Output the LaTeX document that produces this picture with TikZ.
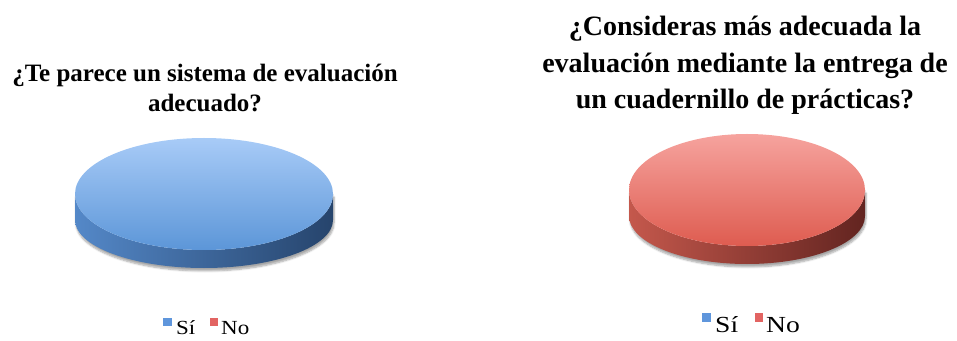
\documentclass[tikz,border=0pt]{standalone}
\usepackage{fontspec}
\setmainfont{Liberation Serif}
\usetikzlibrary{shadows.blur}
\definecolor{bluetop}{RGB}{168,203,247}
\definecolor{bluebot}{RGB}{92,150,216}
\definecolor{blueleft}{RGB}{84,136,200}
\definecolor{blueright}{RGB}{38,68,108}
\definecolor{redtop}{RGB}{246,163,158}
\definecolor{redbot}{RGB}{222,92,80}
\definecolor{redleft}{RGB}{196,88,76}
\definecolor{redright}{RGB}{98,36,32}
\definecolor{keyblue}{RGB}{95,150,220}
\definecolor{keyred}{RGB}{226,100,98}
\newcommand{\widekey}[2]{\scalebox{#1}[1]{#2}}

\begin{document}
\begin{tikzpicture}[x=1pt, y=1pt, title/.style={align=center, inner sep=0pt, anchor=north}, key/.style={minimum size=8.5pt, inner sep=0pt, outer sep=0pt}, keytext/.style={inner sep=0pt, anchor=base west}, pieshadow/.style={blur shadow={shadow xshift=1pt, shadow yshift=-3pt, shadow opacity=35, shadow blur steps=6}}]
\useasboundingbox (0,0) rectangle (957,340);

\node[title, font=\fontsize{25}{30}\selectfont\bfseries] (titleA) at (205,276.5) {¿Te parece un sistema de evaluación\\adecuado?};
\node[title, font=\fontsize{28}{36.5}\selectfont\bfseries] (titleB) at (745,324) {¿Consideras más adecuada la\\evaluación mediante la entrega de\\un cuadernillo de prácticas?};

\shade[left color=blueleft, right color=blueright, pieshadow] (75,146) -- (75,120) arc[start angle=180, end angle=360, x radius=129, y radius=48] -- (333,146) arc[start angle=0, end angle=-180, x radius=129, y radius=56] -- cycle;
\shade[top color=bluetop, bottom color=bluebot] (204,146) ellipse [x radius=129, y radius=56];

\shade[left color=redleft, right color=redright, pieshadow] (629,150) -- (629,124) arc[start angle=180, end angle=360, x radius=118, y radius=48] -- (865,150) arc[start angle=0, end angle=-180, x radius=118, y radius=56] -- cycle;
\shade[top color=redtop, bottom color=redbot] (747,150) ellipse [x radius=118, y radius=56];

\node[key, fill=keyblue] (siA) at (167.5,18) {};
\node[keytext, font=\fontsize{20}{24}\selectfont] (siAtext) at (176,6) {\widekey{1.15}{Sí}};
\node[key, fill=keyred] (noA) at (214,18) {};
\node[keytext, font=\fontsize{20}{24}\selectfont] (noAtext) at (221,6) {\widekey{1.15}{No}};

\node[key, fill=keyblue] (siB) at (706.5,22.5) {};
\node[keytext, font=\fontsize{23}{27}\selectfont] (siBtext) at (715,8) {\widekey{1.2}{Sí}};
\node[key, fill=keyred] (noB) at (759,22.5) {};
\node[keytext, font=\fontsize{23}{27}\selectfont] (noBtext) at (766,8) {\widekey{1.2}{No}};
\end{tikzpicture}
\end{document}
